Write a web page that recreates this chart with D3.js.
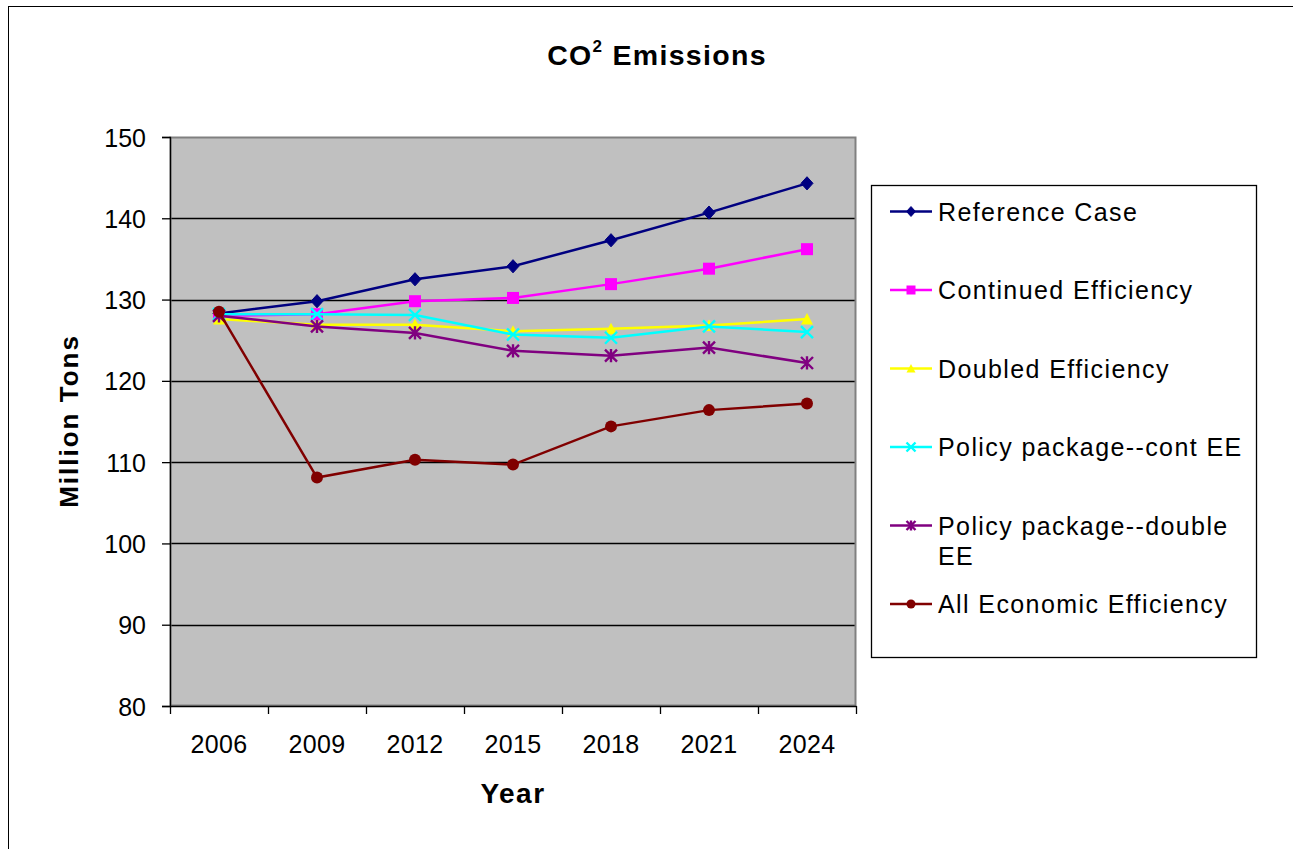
<!DOCTYPE html>
<html>
<head>
<meta charset="utf-8">
<script src="https://cdn.jsdelivr.net/npm/d3@7"></script>
<style>
  html, body { margin: 0; padding: 0; background: #fff; }
  svg { display: block; font-family: Arial, "Liberation Sans", sans-serif; }
</style>
</head>
<body>
<svg id="chart" width="1293" height="849"></svg>
<script>
// Projected CO2 emissions by scenario (million tons)
const years = ["2006", "2009", "2012", "2015", "2018", "2021", "2024"];
const yTicks = [80, 90, 100, 110, 120, 130, 140, 150];

const referenceCase        = [128.3, 129.8, 132.5, 134.1, 137.3, 140.7, 144.3];
const continuedEfficiency  = [128.0, 128.2, 129.8, 130.2, 131.9, 133.8, 136.2];
const doubledEfficiency    = [127.6, 126.9, 126.9, 126.1, 126.4, 126.8, 127.6];
const policyContEE         = [128.2, 128.2, 128.1, 125.7, 125.3, 126.7, 126.0];
const policyDoubleEE       = [128.0, 126.7, 125.9, 123.7, 123.1, 124.1, 122.2];
const allEconomicEff       = [128.5, 108.1, 110.3, 109.7, 114.4, 116.4, 117.2];

const seriesNames = [
  "Reference Case",
  "Continued Efficiency",
  "Doubled Efficiency",
  "Policy package--cont EE",
  "Policy package--double EE",
  "All Economic Efficiency"
];

const series = [
  { name: seriesNames[0], lines: ["Reference Case"], values: referenceCase, color: "#000080", marker: "diamond" },
  { name: seriesNames[1], lines: ["Continued Efficiency"], values: continuedEfficiency, color: "#FF00FF", marker: "square" },
  { name: seriesNames[2], lines: ["Doubled Efficiency"], values: doubledEfficiency, color: "#FFFF00", marker: "triangle" },
  { name: seriesNames[3], lines: ["Policy package--cont EE"], values: policyContEE, color: "#00FFFF", marker: "x" },
  { name: seriesNames[4], lines: ["Policy package--double", "EE"], values: policyDoubleEE, color: "#800080", marker: "star" },
  { name: seriesNames[5], lines: ["All Economic Efficiency"], values: allEconomicEff, color: "#800000", marker: "circle" }
];

const svg = d3.select("#chart");

// chart frame
svg.append("rect")
  .attr("x", 8.5).attr("y", 6.5)
  .attr("width", 1300).attr("height", 900)
  .attr("fill", "#fff").attr("stroke", "#000").attr("stroke-width", 1);

const plot = { left: 170, top: 137, right: 856, bottom: 706 };

const x = d3.scaleBand().domain(years).range([plot.left, plot.right]).padding(0);
const y = d3.scaleLinear().domain([80, 150]).range([plot.bottom, plot.top]);

// plot background
svg.append("rect")
  .attr("x", plot.left).attr("y", plot.top)
  .attr("width", plot.right - plot.left).attr("height", plot.bottom - plot.top)
  .attr("fill", "#C0C0C0");

// horizontal gridlines
svg.append("g")
  .selectAll("line")
  .data(yTicks.filter(t => t > 80 && t < 150))
  .join("line")
  .attr("x1", plot.left).attr("x2", plot.right)
  .attr("y1", d => Math.round(y(d)) + 0.5).attr("y2", d => Math.round(y(d)) + 0.5)
  .attr("stroke", "#000").attr("stroke-width", 1.3);

// plot border
svg.append("rect")
  .attr("x", plot.left + 0.5).attr("y", plot.top + 0.5)
  .attr("width", plot.right - plot.left - 1).attr("height", plot.bottom - plot.top - 1)
  .attr("fill", "none").attr("stroke", "#808080").attr("stroke-width", 2);

// y axis
const yAxis = svg.append("g")
  .attr("transform", `translate(${plot.left},0)`)
  .call(d3.axisLeft(y).tickValues(yTicks).tickSize(8).tickPadding(16).tickFormat(d3.format("d")));
yAxis.select(".domain").attr("stroke", "#000").attr("stroke-width", 1.3);
yAxis.selectAll(".tick line").attr("stroke", "#000").attr("stroke-width", 1.3);
yAxis.selectAll(".tick text")
  .attr("font-size", 25).attr("font-family", "Arial, 'Liberation Sans', sans-serif")
  .attr("fill", "#000").attr("dy", "0.36em");

// x axis: ticks sit on the category boundaries
const xAxis = svg.append("g")
  .attr("transform", `translate(0,${plot.bottom})`)
  .call(d3.axisBottom(x).tickSize(0).tickPadding(47));
xAxis.select(".domain").attr("stroke", "#000").attr("stroke-width", 1.5);
xAxis.selectAll(".tick text")
  .attr("font-size", 25).attr("font-family", "Arial, 'Liberation Sans', sans-serif")
  .attr("letter-spacing", 0.4)
  .attr("fill", "#000").attr("dy", "0");
const boundaries = years.map(d => x(d)).concat([x(years[years.length - 1]) + x.bandwidth()]);
xAxis.selectAll(".bound")
  .data(boundaries)
  .join("line")
  .attr("class", "bound")
  .attr("x1", d => Math.round(d) + 0.5).attr("x2", d => Math.round(d) + 0.5)
  .attr("y1", 0).attr("y2", 8)
  .attr("stroke", "#000").attr("stroke-width", 1.3);

// markers
function drawMarker(g, type, color, s) {
  const h = s / 2;
  if (type === "diamond") {
    g.append("path").attr("d", `M0,${-h * 1.1}L${h},0L0,${h * 1.1}L${-h},0Z`).attr("fill", color).attr("stroke", color);
  } else if (type === "square") {
    g.append("rect").attr("x", -h).attr("y", -h).attr("width", s).attr("height", s).attr("fill", color);
  } else if (type === "triangle") {
    g.append("path").attr("d", `M0,${-h}L${h},${h * 0.9}L${-h},${h * 0.9}Z`).attr("fill", color);
  } else if (type === "x") {
    g.append("path").attr("d", `M${-h},${-h}L${h},${h}M${-h},${h}L${h},${-h}`).attr("stroke", color).attr("stroke-width", 2.4);
  } else if (type === "star") {
    g.append("path").attr("d", `M${-h},${-h}L${h},${h}M${-h},${h}L${h},${-h}M0,${-h * 1.1}L0,${h * 1.1}`).attr("stroke", color).attr("stroke-width", 2.4);
  } else if (type === "circle") {
    g.append("circle").attr("r", h).attr("fill", color);
  }
}

const line = d3.line()
  .x((d, i) => x(years[i]) + x.bandwidth() / 2)
  .y(d => y(d));

series.forEach(s => {
  const g = svg.append("g");
  g.append("path")
    .attr("d", line(s.values))
    .attr("fill", "none")
    .attr("stroke", s.color)
    .attr("stroke-width", 2.5);
  s.values.forEach((v, i) => {
    const m = g.append("g")
      .attr("transform", `translate(${x(years[i]) + x.bandwidth() / 2},${y(v)})`);
    drawMarker(m, s.marker, s.color, 12);
  });
});

// title with superscript
const title = svg.append("text")
  .attr("x", 657).attr("y", 65)
  .attr("text-anchor", "middle")
  .attr("font-size", 28.5).attr("font-weight", "bold")
  .attr("letter-spacing", 1.3)
  .attr("fill", "#000");
title.append("tspan").text("CO");
title.append("tspan").attr("font-size", 17).attr("dy", -13).text("2");
title.append("tspan").attr("dy", 13).text(" Emissions");

// axis titles
svg.append("text")
  .attr("x", 513).attr("y", 803)
  .attr("text-anchor", "middle")
  .attr("font-size", 28).attr("font-weight", "bold")
  .attr("letter-spacing", 1.5)
  .attr("fill", "#000")
  .text("Year");

svg.append("text")
  .attr("transform", "translate(78,421) rotate(-90)")
  .attr("text-anchor", "middle")
  .attr("font-size", 26).attr("font-weight", "bold")
  .attr("letter-spacing", 2)
  .attr("fill", "#000")
  .text("Million Tons");

// legend
const legend = svg.append("g");
legend.append("rect")
  .attr("x", 871.5).attr("y", 185.5)
  .attr("width", 385).attr("height", 472)
  .attr("fill", "#fff").attr("stroke", "#000").attr("stroke-width", 1.3);

const legendY = d3.scalePoint().domain(seriesNames).range([211.5, 604]);

series.forEach(s => {
  const ly = legendY(s.name);
  const g = legend.append("g").attr("transform", `translate(0,${ly})`);
  g.append("line").attr("x1", 890).attr("x2", 932).attr("y1", 0).attr("y2", 0)
    .attr("stroke", s.color).attr("stroke-width", 2.4);
  const m = g.append("g").attr("transform", "translate(911,0)");
  drawMarker(m, s.marker, s.color, 9);
  const t = g.append("text")
    .attr("x", 938).attr("y", 9)
    .attr("font-size", 25).attr("letter-spacing", 1.4)
    .attr("fill", "#000");
  s.lines.forEach((ln, i) => {
    t.append("tspan").attr("x", 938).attr("dy", i === 0 ? 0 : 30).text(ln);
  });
});
</script>
</body>
</html>
